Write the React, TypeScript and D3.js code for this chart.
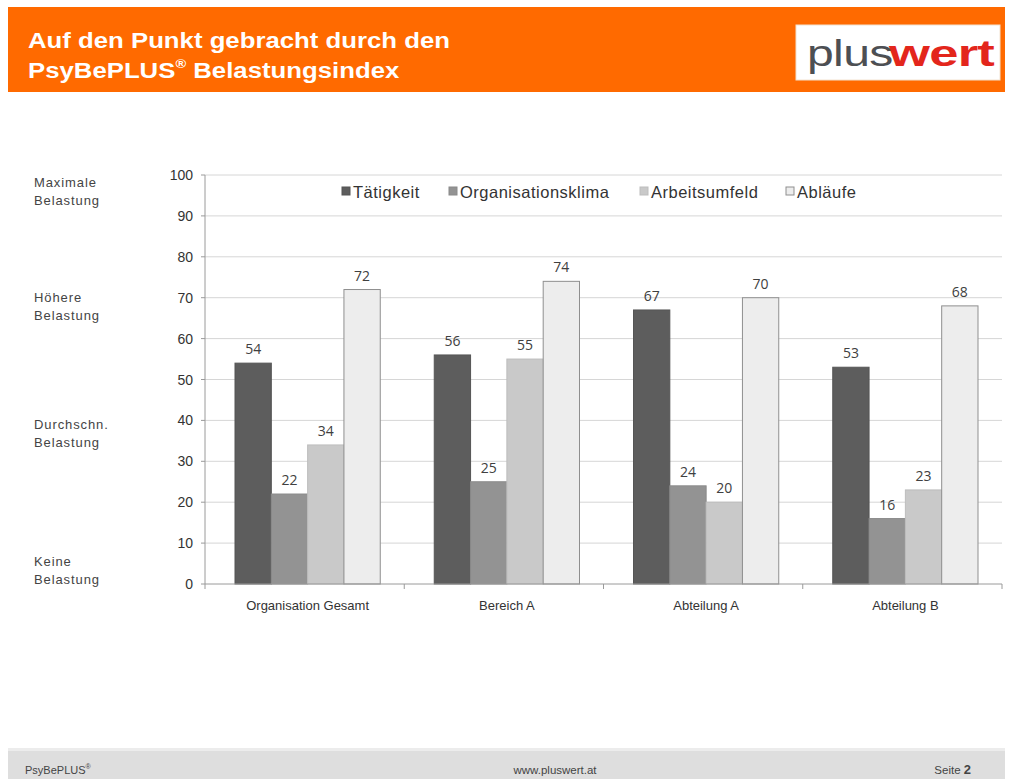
import React from "react";
import * as d3 from "d3";

const categories = ["Organisation Gesamt", "Bereich A", "Abteilung A", "Abteilung B"];
const seriesNames = ["Tätigkeit", "Organisationsklima", "Arbeitsumfeld", "Abläufe"];
const taetigkeit = [54, 56, 67, 53];
const organisationsklima = [22, 25, 24, 16];
const arbeitsumfeld = [34, 55, 20, 23];
const ablaeufe = [72, 74, 70, 68];
const yTicks = [0, 10, 20, 30, 40, 50, 60, 70, 80, 90, 100];
const sideLabels = [
  { value: 97, lines: ["Maximale", "Belastung"] },
  { value: 69, lines: ["Höhere", "Belastung"] },
  { value: 38, lines: ["Durchschn.", "Belastung"] },
  { value: 4.5, lines: ["Keine", "Belastung"] },
];

const seriesValues = [taetigkeit, organisationsklima, arbeitsumfeld, ablaeufe];
const fills = ["#5d5d5d", "#939393", "#c9c9c9", "#ededed"];
const strokes = ["#555", "#8a8a8a", "#bdbdbd", "#8f8f8f"];

export default function App() {
  const W = 1016, H = 779;
  const left = 205, right = 1002, top = 175, bottom = 584;
  const y = d3.scaleLinear().domain([0, 100]).range([bottom, top]);
  const x0 = d3.scaleBand<string>().domain(categories).range([left, right]);
  const bw = x0.bandwidth();
  const x1 = d3.scaleBand<string>().domain(seriesNames).range([30, bw - 24]);
  const font = "Arial, 'Liberation Sans', Helvetica, sans-serif";

  const legendX = [342, 449, 640, 786];

  return (
    <svg width={W} height={H} style={{ position: "absolute", left: 0, top: 0, background: "#fff" }} fontFamily={font}>
      <rect x={0} y={0} width={W} height={H} fill="#fff" />
      {/* header */}
      <rect x={8} y={7} width={997} height={85} fill="#ff6a00" />
      <g transform="translate(28,0) scale(1.12,1)">
        <text x={0} y={48} fill="#fff" fontSize={23} fontWeight="bold">Auf den Punkt gebracht durch den</text>
        <text x={0} y={78} fill="#fff" fontSize={23} fontWeight="bold">
          PsyBePLUS<tspan fontSize={13} dy={-10}>®</tspan><tspan dy={10}> Belastungsindex</tspan>
        </text>
      </g>
      <rect x={796} y={25} width={204} height={55} fill="#fff" stroke="#f2e2d0" />
      <g transform="translate(807,0) scale(1.3,1)">
        <text x={0} y={66} fontSize={37} fill="#4d4f53" letterSpacing={-0.5}>plus</text>
      </g>
      <g transform="translate(889,0) scale(1.42,1)">
        <text x={0} y={66} fontSize={37} fill="#e3261c" fontWeight="bold" letterSpacing={-0.5}>wert</text>
      </g>

      {/* gridlines */}
      {yTicks.filter((t) => t > 0).map((t) => (
        <line key={"g" + t} x1={left} x2={right} y1={y(t)} y2={y(t)} stroke="#d6d6d6" strokeWidth={1} />
      ))}
      {/* y axis */}
      <line x1={left} x2={left} y1={top} y2={bottom} stroke="#9a9a9a" />
      {yTicks.map((t) => (
        <g key={"t" + t}>
          <line x1={left - 4} x2={left} y1={y(t)} y2={y(t)} stroke="#9a9a9a" />
          <text x={193} y={y(t) + 5} textAnchor="end" fontSize={14} fill="#333">{t}</text>
        </g>
      ))}

      {/* bars */}
      {categories.map((c, ci) => (
        <g key={c} transform={`translate(${x0(c)},0)`}>
          {seriesNames.map((s, si) => {
            const v = seriesValues[si][ci];
            const bx = x1(s)!;
            return (
              <g key={s}>
                <rect x={bx} y={y(v)} width={x1.bandwidth()} height={bottom - y(v)} fill={fills[si]} stroke={strokes[si]} strokeWidth={1} />
                <text x={bx + x1.bandwidth() / 2} y={y(v) - 9} textAnchor="middle" fontSize={14} fill="#404040" fontFamily="'Open Sans', 'DejaVu Sans', sans-serif">{v}</text>
              </g>
            );
          })}
          <text x={x1.range()[0] + (x1.range()[1] - x1.range()[0]) / 2} y={610} textAnchor="middle" fontSize={13} fill="#333">{c}</text>
        </g>
      ))}
      {/* x axis */}
      <line x1={left} x2={right} y1={bottom} y2={bottom} stroke="#9a9a9a" />
      {categories.map((c) => (
        <line key={"xt" + c} x1={x0(c)! + bw} x2={x0(c)! + bw} y1={bottom} y2={bottom + 5} stroke="#9a9a9a" />
      ))}
      <line x1={left} x2={left} y1={bottom} y2={bottom + 5} stroke="#9a9a9a" />

      {/* legend */}
      {seriesNames.map((s, i) => (
        <g key={"l" + s}>
          <rect x={legendX[i]} y={187} width={8} height={8} fill={fills[i]} stroke={strokes[i]} />
          <text x={legendX[i] + 11} y={198} fontSize={16.5} fill="#333" letterSpacing={0.5}>{s}</text>
        </g>
      ))}

      {/* side labels */}
      {sideLabels.map((l) => (
        <text key={l.lines[0]} x={34} y={y(l.value)} fontSize={13} fill="#444" letterSpacing={0.9}>
          {l.lines.map((ln, k) => (
            <tspan key={k} x={34} dy={k === 0 ? 0 : 18}>{ln}</tspan>
          ))}
        </text>
      ))}

      {/* footer */}
      <rect x={8} y={748} width={997} height={31} fill="#dedede" />
      <rect x={8} y={748} width={997} height={3} fill="#ececec" />
      <text x={25} y={774} fontSize={11} fill="#444">PsyBePLUS<tspan fontSize={7} dy={-5}>®</tspan></text>
      <text x={555} y={774} fontSize={11.5} fill="#444" textAnchor="middle">www.pluswert.at</text>
      <text x={971} y={774} fontSize={11.5} fill="#444" textAnchor="end">Seite <tspan fontWeight="bold" fontSize={13}>2</tspan></text>
    </svg>
  );
}
